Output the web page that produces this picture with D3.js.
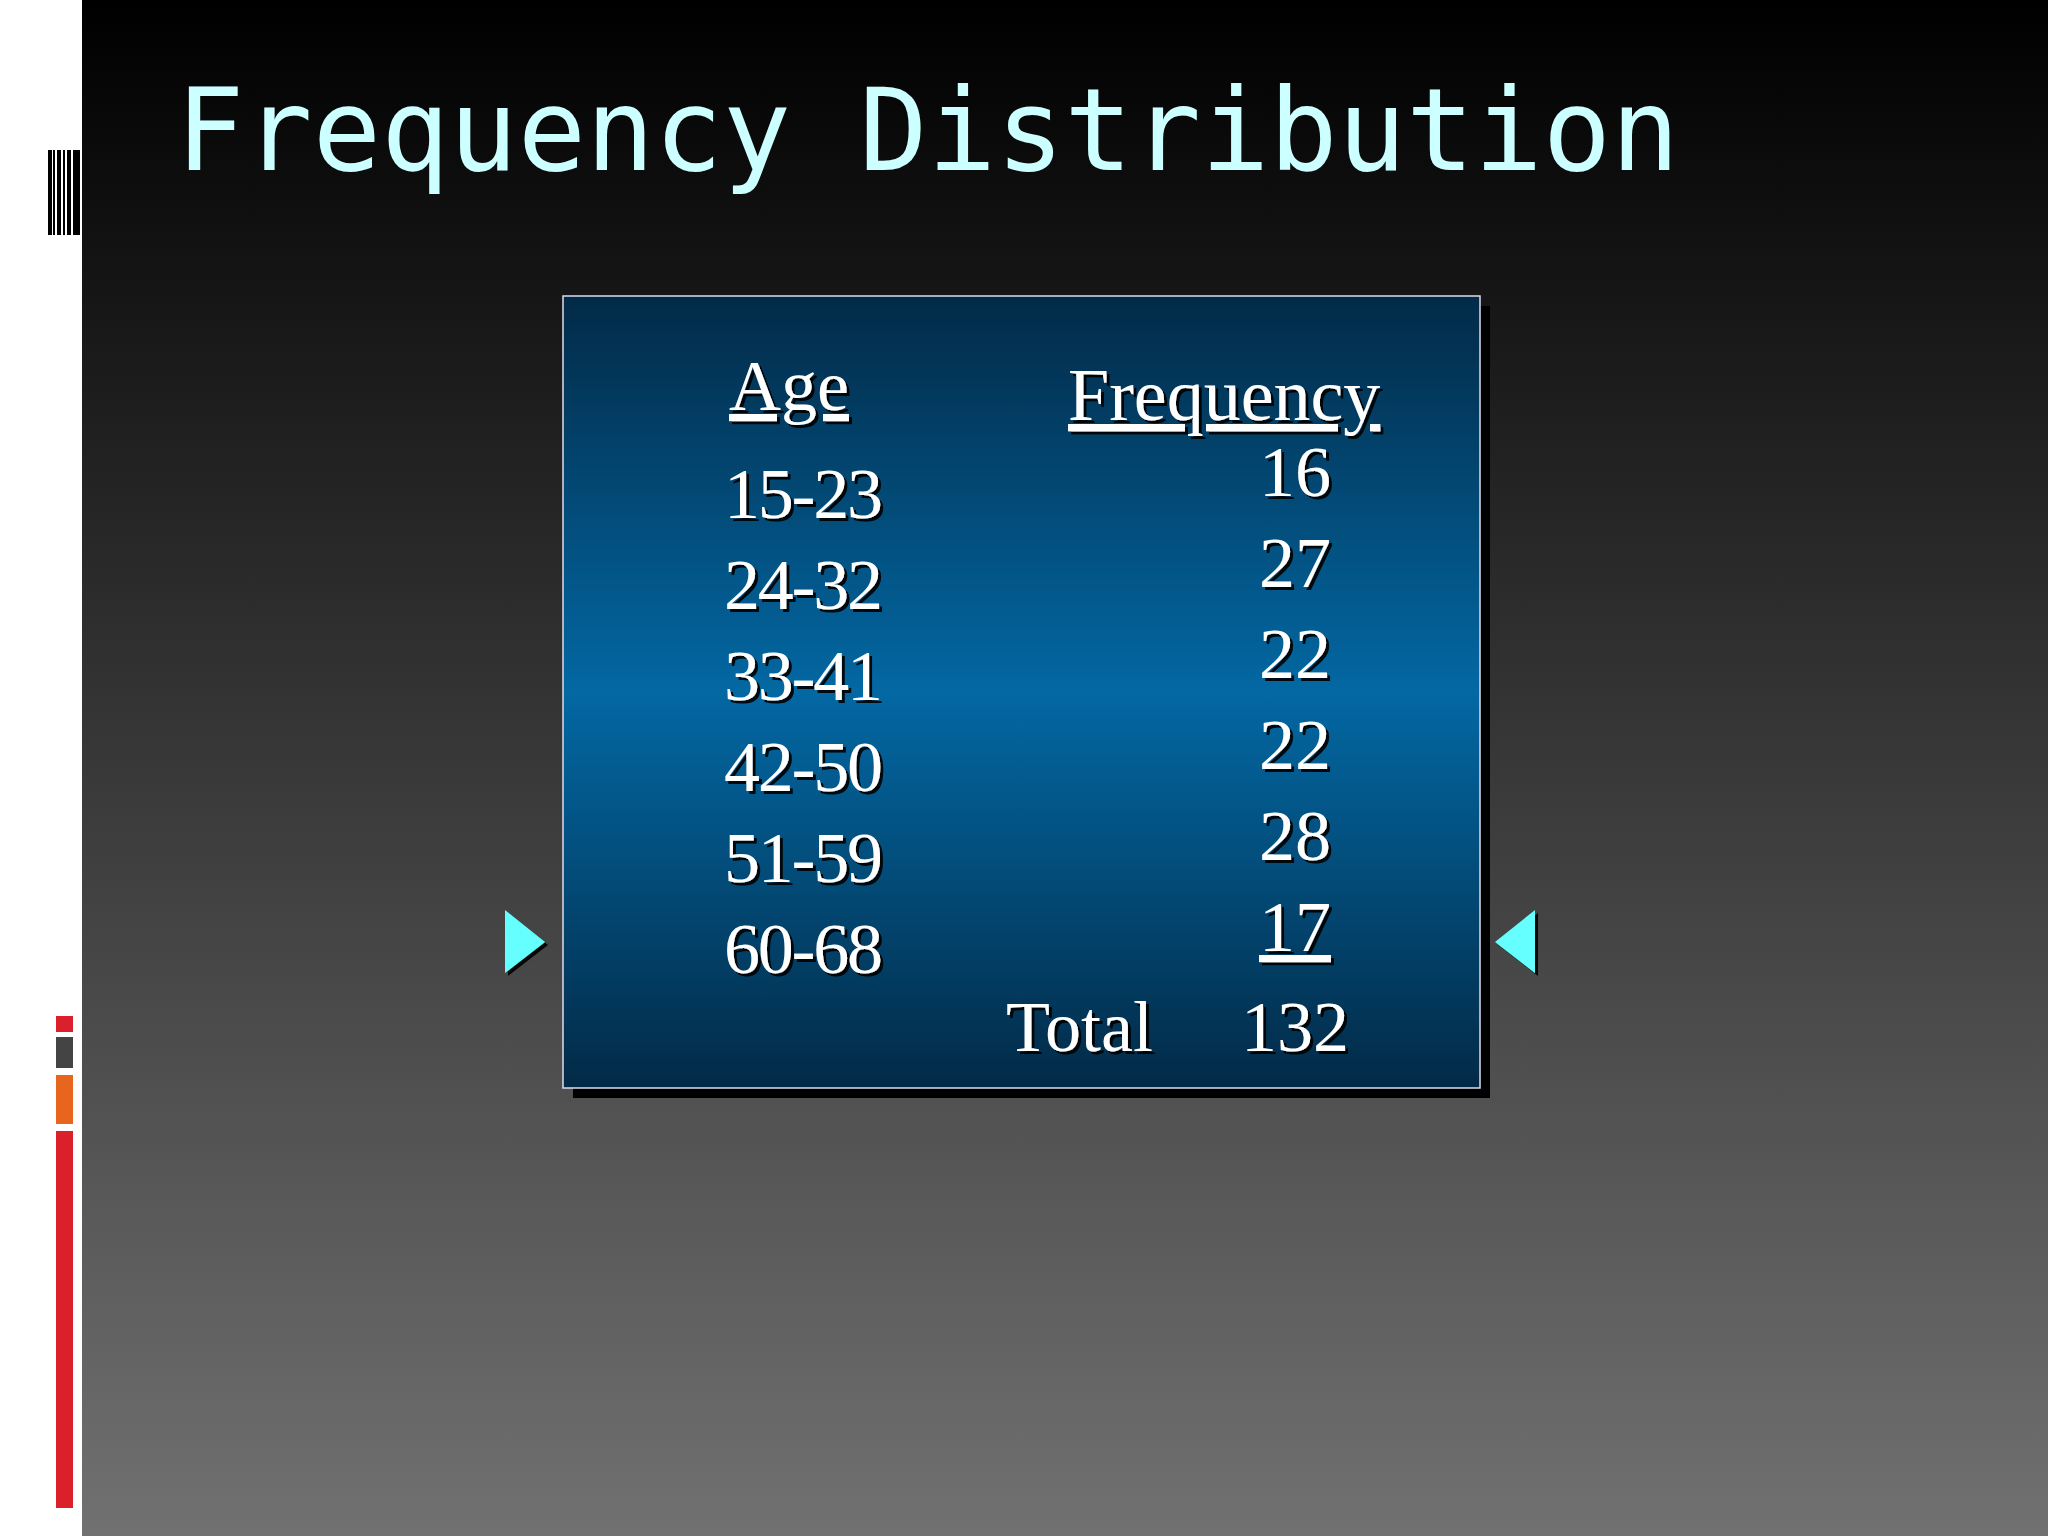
<!DOCTYPE html>
<html><head><meta charset="utf-8">
<script src="https://cdn.jsdelivr.net/npm/d3@7"></script>
<style>body{margin:0;background:#fff}</style>
</head><body>
<script>
var ages = ["15-23","24-32","33-41","42-50","51-59","60-68"]
var freqs = [16,27,22,22,28,17]
var total = 132

var W = 2048, H = 1536
var svg = d3.select("body").append("svg").attr("width", W).attr("height", H)
var defs = svg.append("defs")

var bg = defs.append("linearGradient").attr("id","bg").attr("x1",0).attr("y1",0).attr("x2",0).attr("y2",1)
bg.append("stop").attr("offset","0%").attr("stop-color","#000")
bg.append("stop").attr("offset","100%").attr("stop-color","#717171")

var bx = defs.append("linearGradient").attr("id","bx").attr("x1",0).attr("y1",0).attr("x2",0).attr("y2",1)
bx.append("stop").attr("offset","0%").attr("stop-color","#022a47")
bx.append("stop").attr("offset","50%").attr("stop-color","#0368a3")
bx.append("stop").attr("offset","100%").attr("stop-color","#022a47")

var sh = defs.append("filter").attr("id","sh")
sh.append("feDropShadow").attr("dx",3).attr("dy",3).attr("stdDeviation",0.5).attr("flood-color","#000").attr("flood-opacity",0.9)

svg.append("rect").attr("x",82).attr("y",0).attr("width",W-82).attr("height",H).style("fill","url(#bg)")

// left decoration
var bars = [[48,4],[53,2],[57,4],[63,2],[67,4],[73,7]]
bars.forEach(function(b){
  svg.append("rect").attr("x",b[0]).attr("y",150).attr("width",b[1]).attr("height",85).style("fill","#000")
})
var strips = [[1016,1032,"#d9202b"],[1037,1068,"#444"],[1075,1124,"#e8651e"],[1131,1508,"#d9202b"]]
strips.forEach(function(s){
  svg.append("rect").attr("x",56).attr("y",s[0]).attr("width",17).attr("height",s[1]-s[0]).style("fill",s[2])
})

svg.append("text").attr("x",176).attr("y",170)
  .style("font-family","DejaVu Sans Mono").style("font-size","113.5px").style("fill","#ccffff")
  .text("Frequency Distribution")

// box
svg.append("rect").attr("x",573).attr("y",306).attr("width",917).attr("height",792).style("fill","#000")
svg.append("rect").attr("x",563).attr("y",296).attr("width",917).attr("height",792)
  .style("fill","url(#bx)").style("stroke","#dde").style("stroke-width",1.5)

var y = d3.scaleLinear().domain([0,1]).range([518,609])
var g = svg.append("g").attr("filter","url(#sh)")
  .style("font-family","Liberation Serif").style("font-size","72px").style("fill","#fff")

g.append("text").attr("x",729).attr("y",410).text("Age").style("text-decoration","underline")
g.append("text").attr("x",1068).attr("y",420).style("font-size","74px").text("Frequency").style("text-decoration","underline")

g.selectAll(".age").data(ages).enter().append("text")
  .attr("x",724).attr("y",function(d,i){return y(i)}).attr("textLength",159).text(function(d){return d})
g.selectAll(".fr").data(freqs).enter().append("text")
  .attr("x",1331).attr("y",function(d,i){return y(i)-22}).attr("text-anchor","end")
  .style("text-decoration",function(d,i){return i==freqs.length-1?"underline":null})
  .text(function(d){return d})
g.append("text").attr("x",1006).attr("y",1051).text("Total")
g.append("text").attr("x",1349).attr("y",1051).attr("text-anchor","end").text(total)

// arrows
var ar = svg.append("g").attr("filter","url(#sh)").style("fill","#66ffff")
ar.append("path").attr("d","M505,910 L545,942 L505,973 Z")
ar.append("path").attr("d","M1535,910 L1495,942 L1535,973 Z")
</script>
</body></html>
